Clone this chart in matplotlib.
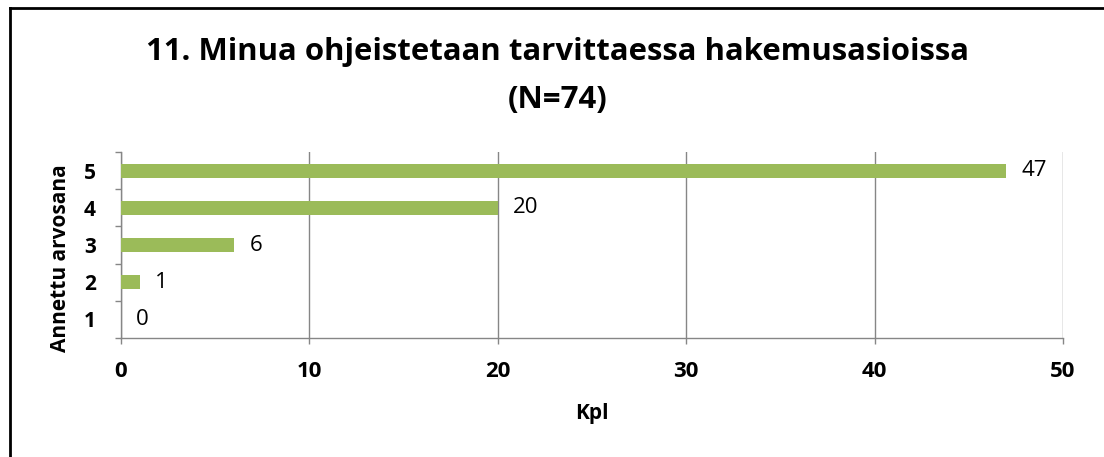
import numpy as np
import matplotlib
matplotlib.use("Agg")
import matplotlib.pyplot as plt
from matplotlib.lines import Line2D

plt.rcParams['font.family'] = ['Open Sans', 'DejaVu Sans']

# === DATA ===
grades = ["1", "2", "3", "4", "5"]
counts = [0, 1, 6, 20, 47]
x_ticks = [0, 10, 20, 30, 40, 50]

title_line1 = "11. Minua ohjeistetaan tarvittaessa hakemusasioissa"
title_line2 = "(N=74)"

bar_color = "#9BBB59"
axis_color = "#868686"

W, H = 1104, 457
fig = plt.figure(figsize=(W / 100, H / 100), dpi=100)
ax = fig.add_axes([121 / W, 1 - 338 / H, (1063 - 121) / W, (338 - 152) / H])

pos = np.arange(len(grades))
ax.barh(pos, counts, height=0.38, color=bar_color, zorder=3)

for p, c in zip(pos, counts):
    ax.annotate(str(c), (c, p), xytext=(11, 0), textcoords="offset points",
                va="center", ha="left", fontsize=16, color="black")

ax.set_xlim(0, 50)
ax.set_ylim(-0.5, len(grades) - 0.5)

# x axis
ax.set_xticks(x_ticks)
ax.set_xticklabels([str(t) for t in x_ticks], fontsize=16, fontweight="bold")
ax.tick_params(axis="x", length=4.5, width=1, color=axis_color, pad=12)
ax.xaxis.grid(True, color=axis_color, linewidth=1, zorder=0)

# y axis: tick marks between categories, labels at centers
ax.set_yticks(np.arange(-0.5, len(grades), 1.0))
ax.set_yticklabels([])
ax.tick_params(axis="y", which="major", length=4.5, width=1, color=axis_color)
ax.set_yticks(pos, minor=True)
ax.set_yticklabels(grades, minor=True, fontsize=15, fontweight="bold")
ax.tick_params(axis="y", which="minor", length=0, pad=18)

for s in ["top", "right"]:
    ax.spines[s].set_visible(False)
for s in ["left", "bottom"]:
    ax.spines[s].set_color(axis_color)
    ax.spines[s].set_linewidth(1)

ax.set_xlabel("Kpl", fontsize=15, fontweight="bold", va="center")
ax.xaxis.set_label_coords(0.5, (338 - 413) / (338 - 152))
fig.text(61 / W, 1 - 258 / H, "Annettu arvosana", rotation=90, fontsize=15,
         fontweight="bold", ha="center", va="center")

fig.text(558 / W, 1 - 52 / H, title_line1, fontsize=22.4, fontweight="bold",
         ha="center", va="center")
fig.text(558 / W, 1 - 100 / H, title_line2, fontsize=22.4, fontweight="bold",
         ha="center", va="center")

# outer chart border (top and left visible)
fig.add_artist(Line2D([9.5 / W, 1], [1 - 7.5 / H, 1 - 7.5 / H], color="black", linewidth=2))
fig.add_artist(Line2D([9.5 / W, 9.5 / W], [0, 1 - 7.5 / H], color="black", linewidth=2))

fig.savefig("out.png", dpi=100)
